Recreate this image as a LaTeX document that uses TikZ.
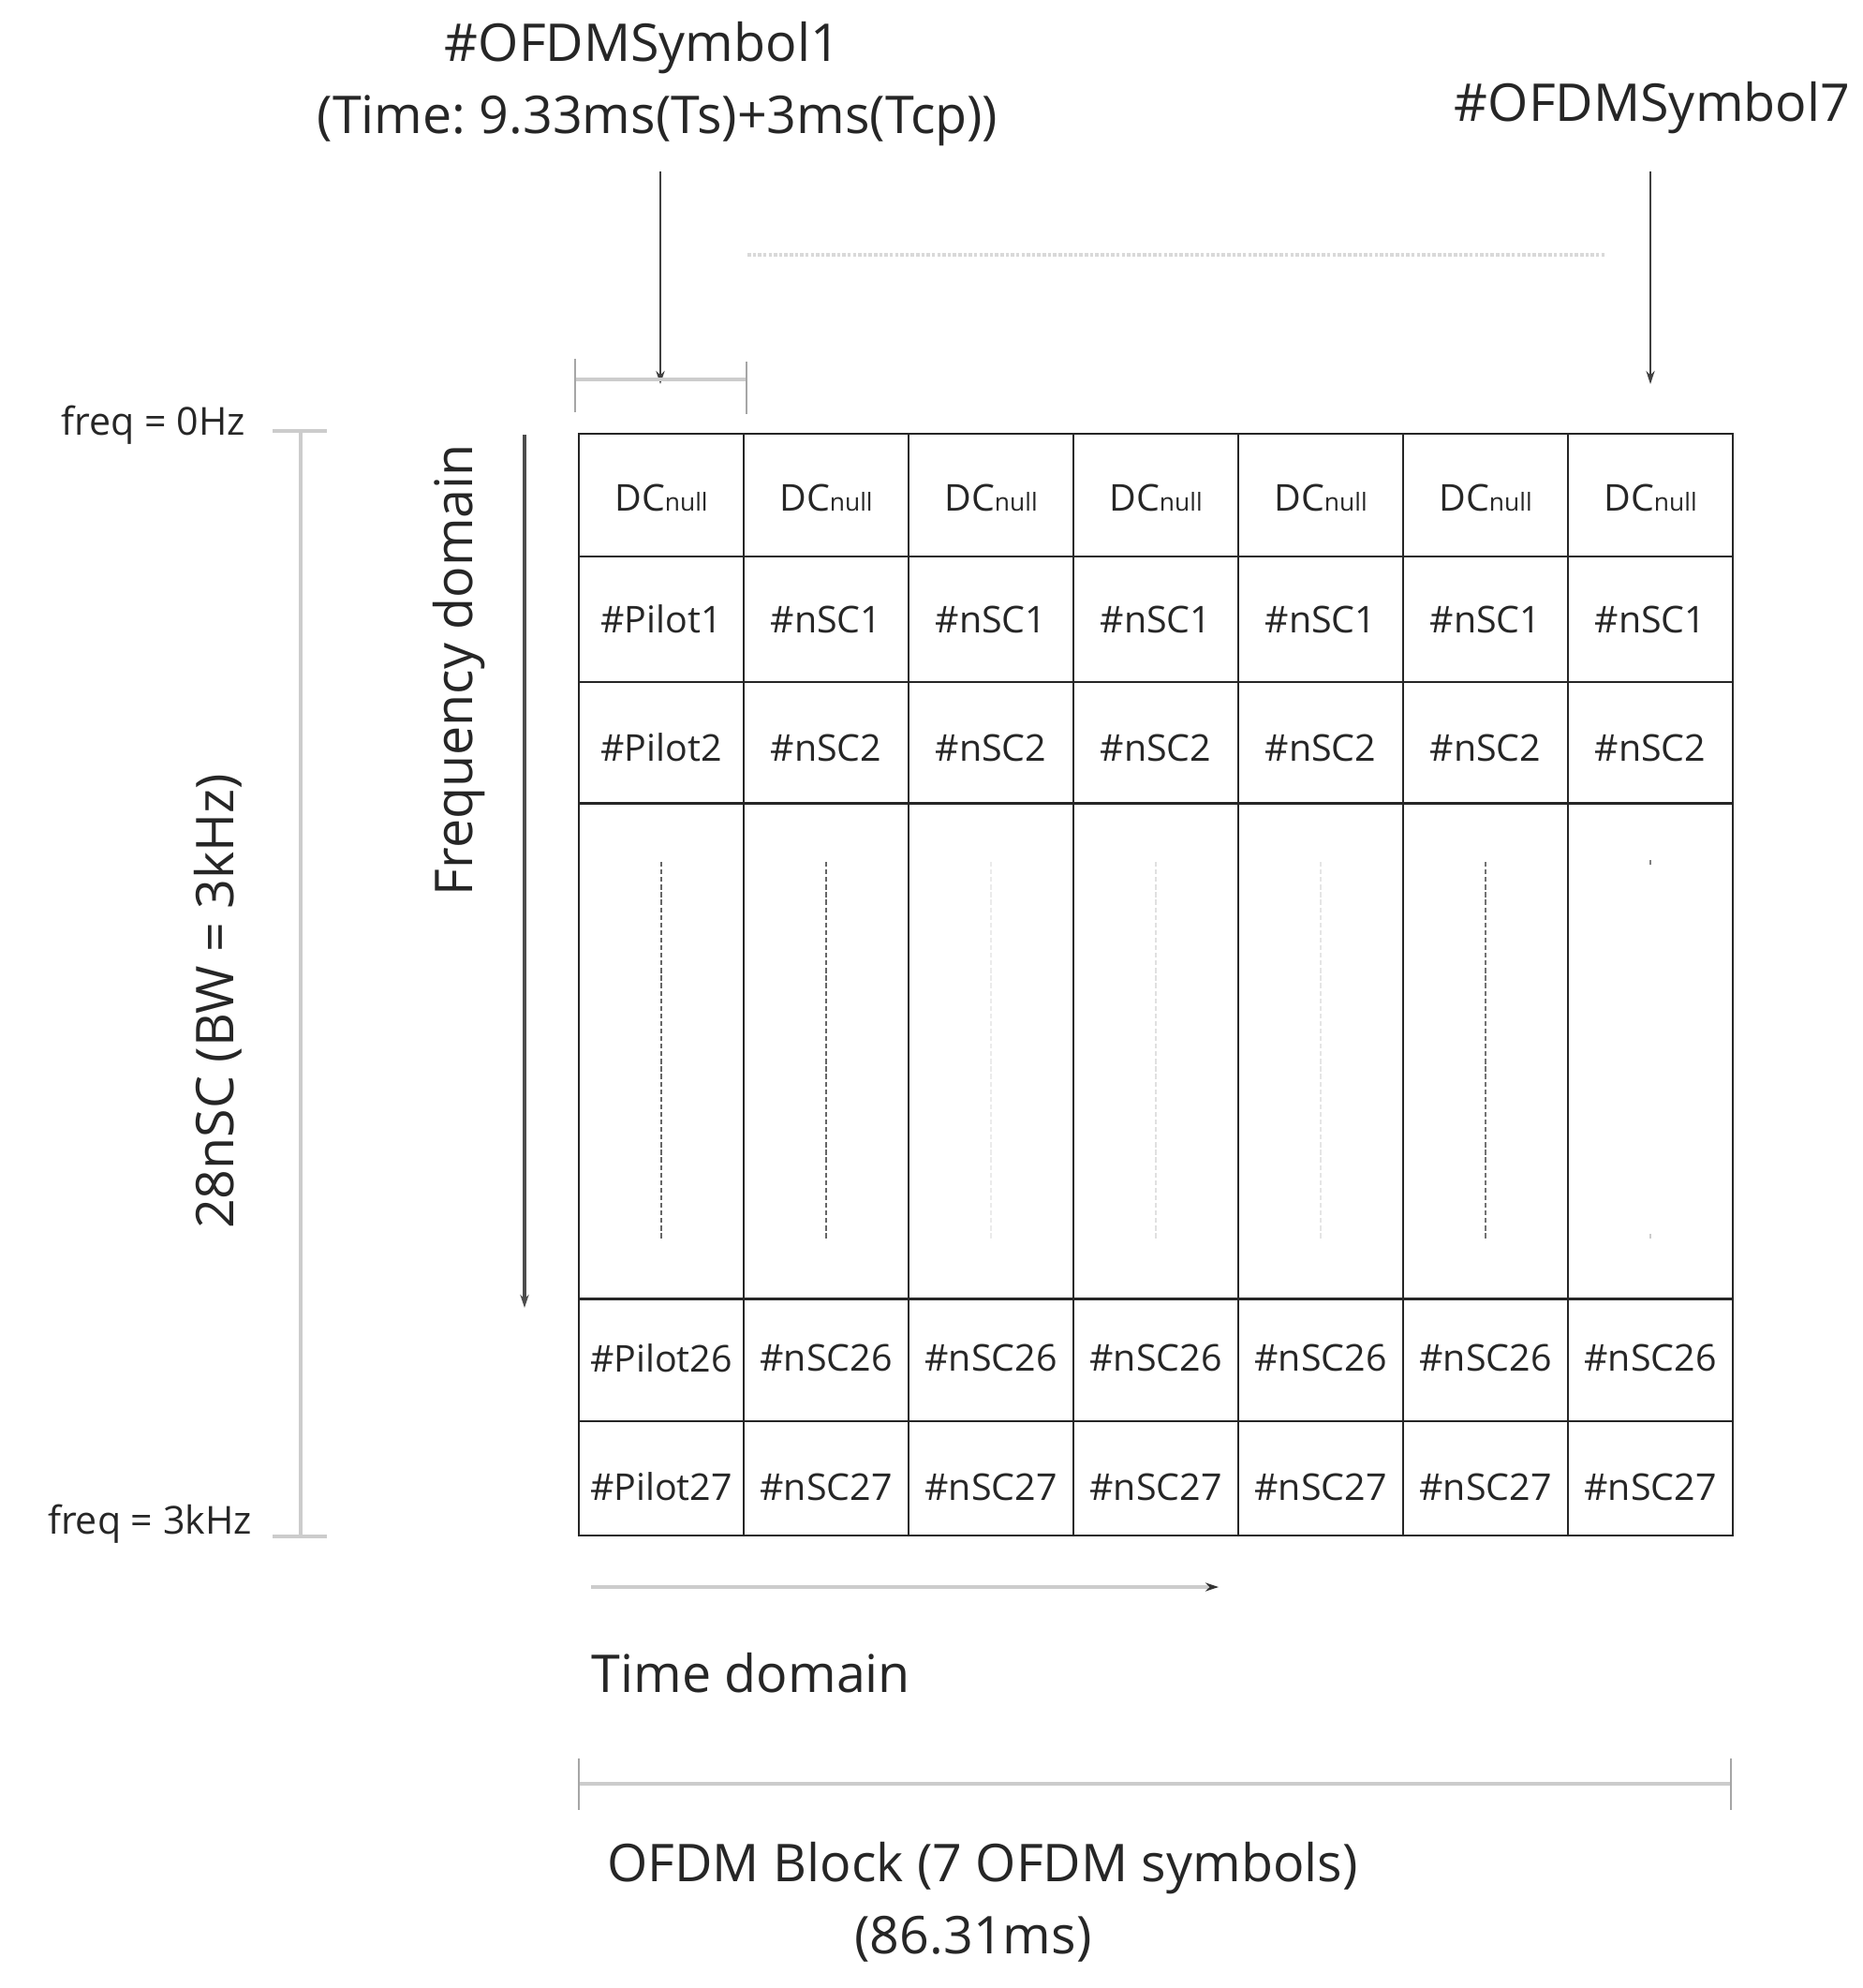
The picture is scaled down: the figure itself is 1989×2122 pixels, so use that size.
\documentclass[tikz,border=0pt]{standalone}
\usepackage{fontspec}
\setmainfont{Open Sans}
\usepackage{tikz}
\usetikzlibrary{shapes,arrows,arrows.meta,positioning}

\tikzstyle{cell} = [draw=black!85, line width=0.8pt, rectangle, inner sep=0pt, minimum width=1.76cm]
\tikzstyle{celltext} = [inner sep=0pt, text=black!85, font=\fontsize{11.2}{13}\selectfont]
\tikzstyle{big} = [inner sep=0pt, text=black!85, font=\fontsize{15.8}{19}\selectfont]
\tikzstyle{small} = [inner sep=0pt, text=black!85, font=\fontsize{11.7}{14}\selectfont]
\tikzstyle{guide} = [draw=black!20, line width=1pt]
\tikzstyle{tick} = [draw=black!35, line width=0.6pt]
\tikzstyle{dots} = [dash pattern=on 1.5pt off 0.8pt, line width=0.6pt]

\newcommand{\dcnull}{DC{\fontsize{7.5}{9}\selectfont null}}

\begin{document}
\frenchspacing
\begin{tikzpicture}[x=0.01cm,y=-0.01cm,>={Stealth[length=4pt,width=2.6pt]}]
\useasboundingbox (0,0) rectangle (1989,2122);

% grid of sub-carriers
\foreach \r/\y/\h/\t/\p/\n in {1/528.5/1.31/3/\dcnull/\dcnull,
  2/661/1.34/0/\#Pilot1/\#nSC1,
  3/793/1.30/5/\#Pilot2/\#nSC2,
  4/1122/5.28/0//,
  5/1451.5/1.31/-2/\#Pilot26/\#nSC26,
  6/1578/1.22/9/\#Pilot27/\#nSC27}{
  \foreach \c in {1,...,7}{
    \node[cell, minimum height=\h cm] (c\r\c) at ({618+176*(\c-0.5)},\y) {};
    \node[celltext] (t\r\c) at ({618+176*(\c-0.5)},\y+\t) {\ifnum\c=1 \p\else\n\fi};
  }
}

% dots in the gap row
\foreach \c/\col in {1/black!60,2/black!60,3/black!8,4/black!12,5/black!10,6/black!55}{
  \draw[dots, \col] ({618+176*(\c-0.5)},920) -- ({618+176*(\c-0.5)},1323);
}
\draw[dots, black!50] (1762,918) -- (1762,924);
\draw[dots, black!20] (1762,1317) -- (1762,1323);

% symbol labels
\node[big] (sym1) at (686,51) {\#OFDMSymbol1};
\node[big] (sym1t) at (702,129) {(Time: 9.33ms(Ts)+3ms(Tcp))};
\node[big] (sym7) at (1764,115) {\#OFDMSymbol7};
\coordinate (a1s) at (705,183);
\coordinate (a1e) at (705,410);
\coordinate (a7s) at (1762,183);
\coordinate (a7e) at (1762,410);
\draw[->, black!75, line width=0.6pt] (a1s) -- (a1e);
\draw[->, black!75, line width=0.6pt] (a7s) -- (a7e);
\draw[guide] (614,405) -- (797,405);
\draw[tick] (614,383) -- (614,440);
\draw[tick] (797,386) -- (797,442);
\draw[black!15, line width=1.2pt, dash pattern=on 1pt off 0.6pt] (798,272) -- (1714,272);

% frequency axis
\node[small] (f0) at (164,454) {freq = 0Hz};
\node[small] (f3) at (160,1627) {freq = 3kHz};
\coordinate (bw0) at (321,460);
\coordinate (bw3) at (321,1640);
\draw[guide] (bw0) -- (bw3);
\draw[guide] (291,460) -- (349,460);
\draw[guide] (291,1640) -- (349,1640);
\node[big, rotate=90] (bw) at (233,1069) {28nSC (BW = 3kHz)};
\node[big, rotate=90] (fdom) at (490,715) {Frequency domain};
\coordinate (fa) at (560,464);
\coordinate (fb) at (560,1396);
\draw[->, black!70, line width=0.9pt] (fa) -- (fb);

% time axis
\coordinate (ta) at (631,1694);
\coordinate (tb) at (1301,1694);
\draw[-{Stealth[length=4pt,width=2.6pt,black!80]}, black!20, line width=1.2pt] (ta) -- (tb);
\node[big, anchor=west] (tdom) at (631,1786) {Time domain};

% block length
\draw[guide] (618,1904) -- (1848,1904);
\draw[tick] (618,1877) -- (618,1932);
\draw[tick] (1848,1877) -- (1848,1932);
\node[big] (blk) at (1049,1994) {OFDM Block (7 OFDM symbols)};
\node[big] (blkt) at (1039,2070) {(86.31ms)};

\end{tikzpicture}
\end{document}
